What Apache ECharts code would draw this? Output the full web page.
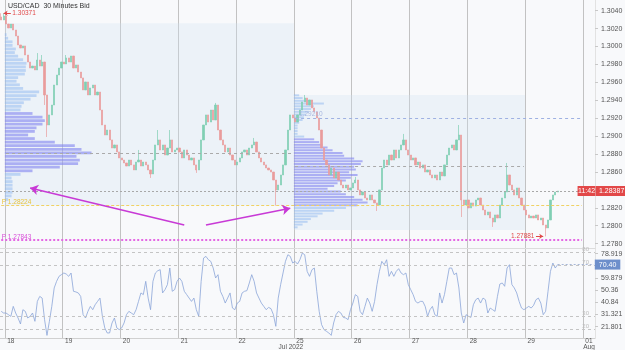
<!DOCTYPE html>
<html><head><meta charset="utf-8">
<script src="https://cdn.jsdelivr.net/npm/echarts@6/dist/echarts.min.js"></script>
<style>html,body{margin:0;padding:0;background:#f8f9fb}#c{width:625px;height:350px}</style>
</head><body><div id="c"></div>
<script>
// ---------- data ----------
const dayLabels = ['18','19','20','21','22','25','26','27','28','29','01'];
const closes = [
1.30296,1.30340,1.30251,1.30207,1.30251,1.30184,1.30117,1.30017,1.29983,1.30006,
1.29905,1.29827,1.29760,1.29782,1.29738,1.29849,1.29782,1.29827,1.29459,1.29124,
1.29236,1.29347,1.29570,1.29682,1.29760,1.29827,1.29805,1.29872,1.29827,1.29894,
1.29760,1.29794,1.29715,1.29649,1.29515,1.29604,1.29459,1.29537,1.29570,1.29459,
1.29492,1.29291,1.29124,1.29012,1.29068,1.28957,1.28867,1.28901,1.28823,1.28756,
1.28733,1.28700,1.28666,1.28733,1.28678,1.28622,1.28711,1.28733,1.28666,1.28711,
1.28678,1.28622,1.28577,1.28733,1.28901,1.28957,1.28845,1.28901,1.28789,1.28867,
1.28957,1.28823,1.28845,1.28867,1.28823,1.28756,1.28845,1.28789,1.28733,1.28756,
1.28678,1.28622,1.28733,1.28957,1.29124,1.29236,1.29157,1.29291,1.29180,1.29347,
1.29068,1.28957,1.28901,1.28823,1.28867,1.28789,1.28733,1.28678,1.28711,1.28756,
1.28823,1.28845,1.28789,1.28867,1.28901,1.28934,1.28823,1.28756,1.28711,1.28678,
1.28644,1.28622,1.28599,1.28510,1.28399,1.28454,1.28566,1.28678,1.28845,1.29068,
1.29236,1.29202,1.29157,1.29236,1.29291,1.29381,1.29425,1.29347,1.29403,1.29314,
1.29269,1.29202,1.29068,1.28867,1.28733,1.28678,1.28566,1.28644,1.28533,1.28599,
1.28510,1.28454,1.28421,1.28454,1.28399,1.28421,1.28477,1.28510,1.28399,1.28343,
1.28376,1.28309,1.28287,1.28343,1.28287,1.28254,1.28231,1.28399,1.28644,1.28733,
1.28678,1.28789,1.28733,1.28845,1.28756,1.28845,1.28901,1.28957,1.28845,1.28789,
1.28733,1.28756,1.28678,1.28711,1.28644,1.28678,1.28599,1.28622,1.28566,1.28533,
1.28566,1.28510,1.28599,1.28555,1.28678,1.28789,1.28867,1.28901,1.28845,1.28957,
1.29012,1.28287,1.28231,1.28287,1.28198,1.28254,1.28219,1.28287,1.28309,1.28231,
1.28175,1.28120,1.28153,1.28086,1.28041,1.28120,1.28086,1.28231,1.28309,1.28376,
1.28566,1.28454,1.28399,1.28343,1.28421,1.28309,1.28231,1.28175,1.28120,1.28086,
1.28108,1.28086,1.28120,1.28064,1.28086,1.28008,1.27975,1.28064,1.28287,1.28343,
1.28376,1.28387];
const firstOpen = 1.30330;
const wickHighs = {0:1.30371,1:1.30371,5:1.30240,15:1.29927,17:1.29905,27:1.29905,57:1.28845,65:1.29068,70:1.29068,89:1.29370,105:1.28979,126:1.29459,147:1.28544,167:1.29024,190:1.29124,210:1.28700};
const wickLows = {18:1.29347,19:1.28990,62:1.28533,81:1.28589,114:1.28224,156:1.28164,191:1.28097,204:1.27986,226:1.27881};
const rsi = [
33.8,32.5,32.5,31.2,29.9,37.7,32.5,28.6,23.9,35.1,
33.8,28.6,29.9,32.5,26.0,41.6,45.5,44.2,27.3,15.0,
26.0,37.7,52.1,57.3,61.2,62.5,63.8,63.0,61.2,63.8,
49.5,49.0,48.2,45.5,31.2,28.6,33.8,37.7,35.1,39.0,
41.6,44.2,29.9,20.8,16.9,16.9,24.7,28.6,20.8,19.5,
20.8,24.7,31.2,33.8,32.5,31.2,35.1,41.6,48.2,46.9,
57.3,44.2,35.1,57.3,63.8,65.6,66.4,48.2,50.8,54.7,
67.7,49.5,50.8,57.3,59.9,57.3,49.5,46.9,44.2,41.6,
44.2,35.1,29.9,57.3,75.5,76.8,74.2,72.9,67.7,59.9,
62.5,49.5,45.5,40.3,44.2,48.2,36.4,35.1,40.3,41.6,
48.2,49.5,50.0,56.0,62.5,57.3,48.2,44.2,40.3,37.7,
35.1,36.9,35.9,31.2,22.1,44.2,54.7,63.8,72.9,78.1,
76.8,71.6,72.9,70.8,74.2,79.4,78.1,65.1,61.2,66.4,
67.7,49.5,33.8,23.4,19.5,18.2,16.9,15.0,24.7,31.2,
33.8,32.5,29.1,28.6,27.3,35.1,40.3,46.9,45.5,33.8,
31.2,37.7,44.2,40.3,33.8,41.6,54.7,65.1,72.9,70.3,
74.2,61.2,65.1,61.2,65.1,67.2,63.8,62.5,63.8,54.7,
50.8,46.9,41.6,40.3,41.6,41.6,37.7,29.9,35.1,37.7,
31.2,29.9,48.2,40.3,46.9,57.3,67.7,67.7,62.5,63.8,
52.1,32.5,24.7,31.2,29.9,29.1,39.0,42.9,44.2,40.3,
44.2,42.9,32.5,36.4,35.1,33.8,45.5,55.2,56.0,53.4,
67.7,70.3,54.7,52.1,48.2,41.6,36.4,35.1,36.4,37.7,
36.4,38.5,42.9,44.2,40.3,31.2,33.8,49.5,65.1,71.6,
67.7,70.40];
const priceTicks = [1.2780,1.2800,1.2820,1.2840,1.2860,1.2880,1.2900,1.2920,1.2940,1.2960,1.2980,1.3000,1.3020,1.3040];
const rsiTicks = [21.801,31.321,40.84,50.36,59.879,78.919];
const rsiLevels = [80,70,30,20];
// volume profile week 1 (rows from top, bin size 0.0004) and week 2 (bin size 0.000307)
const profile1Start = 2, profile1Top = 1.30128, profile1Bin = 0.0004, profile1VA = [22,38];
const profile1Vol = [1.7,3.3,7.7,7.7,11,10,13.3,18.3,21.7,21,21,20,13.3,11.7,15,18.3,34.3,31.7,25.7,19,16.7,15.7,27.7,37.7,40,37.7,31.7,30,23.3,30,50,70,76.7,86.7,71.7,75,73.3,55,27.7,15.7,6.7,7.7,7.7,7.7,7.7,6.7,3.3];
const profile2Start = 122, profile2Top = 1.29451, profile2Bin = 0.000307, profile2VA = [16,40];
const profile2Vol = [5.3,8.7,18.7,30,20,17,15,12,10,8.7,5.3,3.7,3.7,3.7,3.7,10.3,20.3,25.3,28.7,33.7,38.7,48.7,50.3,60.3,68.7,67,60.3,62,55.3,63.7,57,52,43.7,40.3,33.7,47,52,60.3,68.7,73.7,63.7,52,40.3,28.7,23.7,17,13.7,8.7,3.7];
const weekBoxes = [[2,122,1.30260,1.28224],[122,218,1.29459,1.27952]];
const weekHigh = 1.30371, weekLow1 = 1.28224, weekLow2 = 1.27843, lastLow = 1.27881;
const poc1 = 1.28811, poc2 = 1.28666, vwap2 = 1.29202, lastPrice = 1.28387, lastRsi = 70.40;

// ---------- build ----------
const FF = 'Liberation Sans, Arial, sans-serif';
const N_SLOTS = 247;
const cats = [];
for (let s = 0; s < N_SLOTS; s++) {
  const h = s - 2, d = Math.floor(h / 24), hr = ((h % 24) + 24) % 24;
  cats.push((d >= 0 ? dayLabels[d] : '17') + '|' + hr);
}
const candleData = closes.map((c, i) => {
  const o = i === 0 ? firstOpen : closes[i - 1];
  let lo = Math.min(o, c), hi = Math.max(o, c);
  if (wickLows[i] !== undefined) lo = Math.min(lo, wickLows[i]);
  if (wickHighs[i] !== undefined) hi = Math.max(hi, wickHighs[i]);
  return [o, c, lo, hi];
});
function profRows(start, top, bin, vols, va) {
  return vols.map((v, k) => [start, top - k * bin, v, (k >= va[0] && k <= va[1]) ? 1 : 0, bin]);
}
const profileData = profRows(profile1Start, profile1Top, profile1Bin, profile1Vol, profile1VA)
  .concat(profRows(profile2Start, profile2Top, profile2Bin, profile2Vol, profile2VA));
const PROFILE_SCALE = 0.415;
const isDayStart = i => i >= 2 && (i - 2) % 24 === 0;

const UP = '#80cfb3', DOWN = '#e99c9c';
const option = {
  backgroundColor: '#f8f9fb',
  animation: false,
  title: {text: 'USD/CAD  30 Minutes Bid', left: 8, top: 3, padding: 0, textStyle: {fontSize: 7, fontWeight: 'normal', color: '#333', fontFamily: FF}},
  grid: [{left: 0, right: 30, top: 0, height: 248, containLabel: false, outerBoundsMode: 'none'},
         {left: 0, right: 30, top: 248, height: 90, containLabel: false, outerBoundsMode: 'none'}],
  xAxis: [
    {type: 'category', gridIndex: 0, data: cats, boundaryGap: true,
      axisLine: {show: true, lineStyle: {color: '#dcdcdc'}}, axisTick: {show: false}, axisLabel: {show: false},
      splitLine: {show: true, interval: isDayStart, lineStyle: {color: '#c2c2c2', width: 1}}},
    {type: 'category', gridIndex: 1, data: cats, boundaryGap: true,
      axisLine: {show: true, lineStyle: {color: '#d0d0d0'}}, axisTick: {show: false},
      axisLabel: {show: true, interval: i => i >= 2 && (i - 2) % 24 === 2, margin: 0, fontSize: 6.5, color: '#555', fontFamily: FF,
        formatter: v => { const d = v.split('|')[0];
          if (d === '25') return '{d|25}\n{m|Jul 2022}';
          if (d === '01') return '{d|01}\n{d|Aug}';
          return '{d|' + d + '}'; },
        rich: {d: {fontSize: 6.5, color: '#555', lineHeight: 6, fontFamily: FF}, m: {fontSize: 6.5, color: '#555', lineHeight: 6, padding: [0, 18, 0, 0], fontFamily: FF}}},
      splitLine: {show: true, interval: isDayStart, lineStyle: {color: '#c2c2c2', width: 1}}}
  ],
  yAxis: [
    {type: 'value', gridIndex: 0, position: 'right', min: 1.27751, max: 1.30519,
      axisLine: {show: true, lineStyle: {color: '#e2e2e2'}},
      axisTick: {show: true, length: 3, lineStyle: {color: '#c8c8c8'}, customValues: priceTicks},
      axisLabel: {fontSize: 7, color: '#555', margin: 6, fontFamily: FF, customValues: priceTicks, formatter: v => v.toFixed(4)},
      splitLine: {show: false}},
    {type: 'value', gridIndex: 1, position: 'right', min: 12.96, max: 83.36,
      axisLine: {show: true, lineStyle: {color: '#e2e2e2'}},
      axisTick: {show: true, length: 3, lineStyle: {color: '#c8c8c8'}, customValues: rsiTicks},
      axisLabel: {fontSize: 7, color: '#555', margin: 6, fontFamily: FF, customValues: rsiTicks, formatter: v => String(v)},
      splitLine: {show: false}}
  ],
  series: [
    {type: 'custom', name: 'weeks', xAxisIndex: 0, yAxisIndex: 0, z: 0, silent: true,
      data: weekBoxes, encode: {x: [0, 1], y: [2, 3]},
      renderItem: (p, api) => {
        const band = api.size([1, 0])[0];
        const a = api.coord([api.value(0), api.value(2)]), b = api.coord([api.value(1), api.value(3)]);
        return {type: 'rect', shape: {x: a[0] - band / 2, y: a[1], width: b[0] - a[0], height: b[1] - a[1]}, style: {fill: 'rgba(208,226,242,0.3)'}};
      }},
    {type: 'custom', name: 'profile', xAxisIndex: 0, yAxisIndex: 0, z: 1, silent: true,
      data: profileData, encode: {x: 0, y: 1},
      renderItem: (p, api) => {
        const slot = api.value(0), pr = api.value(1), vol = api.value(2), va = api.value(3), half = api.value(4) / 2;
        const band = api.size([1, 0])[0];
        const a = api.coord([slot, pr + half]), b = api.coord([slot, pr - half]);
        return {type: 'rect', shape: {x: a[0] - band / 2, y: a[1], width: band * vol * PROFILE_SCALE, height: Math.max(1, b[1] - a[1] - 0.8)},
          style: {fill: va ? 'rgba(128,130,240,0.6)' : 'rgba(140,182,240,0.5)'}};
      }},
    {type: 'candlestick', name: 'USD/CAD', xAxisIndex: 0, yAxisIndex: 0, z: 3, barWidth: 1.7,
      data: candleData,
      itemStyle: {color: UP, color0: DOWN, borderColor: UP, borderColor0: DOWN, borderWidth: 0.7},
      markLine: {silent: true, animation: false, symbol: ['none', 'none'], label: {show: false}, precision: 5,
        data: [
          [{coord: [2, poc1], lineStyle: {color: '#aaa', type: [3, 3], width: 1}}, {coord: [121, poc1]}],
          [{coord: [122, poc2], lineStyle: {color: '#aaa', type: [3, 3], width: 1}}, {coord: [217, poc2]}],
          [{coord: [122, vwap2], lineStyle: {color: '#9fb1e2', type: [3, 3], width: 1}}, {coord: [241, vwap2]}],
          [{coord: [0, weekLow1], lineStyle: {color: '#f0d264', type: [3, 2], width: 1}}, {coord: [241, weekLow1]}],
          [{coord: [0, weekLow2], lineStyle: {color: '#e468e4', type: [2, 2], width: 2}}, {coord: [241, weekLow2]}],
          {yAxis: lastPrice, lineStyle: {color: '#a8a8a8', type: [2, 2], width: 1},
            label: {show: true, position: 'end', distance: 1, formatter: '1.28387', color: '#fff', backgroundColor: '#e24848', padding: [2, 3, 1, 3], fontSize: 7, fontFamily: FF}},
          [{coord: [4, weekHigh], lineStyle: {color: '#e04848', type: 'solid', width: 1}}, {coord: [1, weekHigh], symbol: 'arrow', symbolSize: 4}],
          [{coord: [222, lastLow], lineStyle: {color: '#e04848', type: 'solid', width: 1}}, {coord: [225, lastLow], symbol: 'arrow', symbolSize: 4}],
          [{coord: [76, 1.28008], lineStyle: {color: '#c83ad6', type: 'solid', width: 1.6}}, {coord: [12, 1.28421], symbol: 'arrow', symbolSize: 8}],
          [{coord: [85, 1.28008], lineStyle: {color: '#c83ad6', type: 'solid', width: 1.6}}, {coord: [120, 1.28194], symbol: 'arrow', symbolSize: 8}]
        ]},
      markPoint: {silent: true, animation: false, symbol: 'circle', symbolSize: 1, itemStyle: {color: 'rgba(0,0,0,0)'},
        data: [
          {coord: [4, weekHigh], label: {show: true, position: 'right', distance: 1, formatter: '1.30371', color: '#e04848', fontSize: 6.5, fontFamily: FF}},
          {coord: [222, lastLow], label: {show: true, position: 'left', distance: 1, formatter: '1.27881', color: '#e04848', fontSize: 6.5, fontFamily: FF}},
          {coord: [0, weekLow1], label: {show: true, position: 'right', distance: 0, offset: [0, -3], formatter: 'P 1.28224', color: '#e8c440', fontSize: 6.5, fontFamily: FF}},
          {coord: [0, weekLow2], label: {show: true, position: 'right', distance: 0, offset: [0, -3], formatter: 'P 1.27843', color: '#d850d8', fontSize: 6.5, fontFamily: FF}},
          {coord: [123, vwap2], label: {show: true, position: 'right', distance: 1, offset: [0, -4], formatter: '1.29210', color: '#a9b8e0', fontSize: 6.5, fontFamily: FF}},
          {coord: [243, lastPrice], symbol: 'rect', symbolSize: [18, 10], itemStyle: {color: '#e24848'},
            label: {show: true, position: 'inside', formatter: '11:42', color: '#fff', fontSize: 7, fontFamily: FF}}
        ]}
    },
    {type: 'line', name: 'RSI', xAxisIndex: 1, yAxisIndex: 1, data: rsi, showSymbol: false, z: 3,
      lineStyle: {color: '#8aa5d8', width: 0.8},
      markLine: {silent: true, animation: false, symbol: ['none', 'none'], label: {show: false},
        data: rsiLevels.map(v => ({yAxis: v, lineStyle: {color: '#c4c4c4', type: [3, 3], width: 1},
            label: {show: true, position: 'insideEndTop', distance: [6, 0], formatter: String(v), color: '#bdbdbd', fontSize: 6, fontFamily: FF}}))
          .concat([[{coord: [231, lastRsi], lineStyle: {color: '#a8b8d8', type: [2, 2], width: 1},
            label: {show: true, position: 'end', distance: 1, formatter: '70.40', color: '#fff', backgroundColor: '#6d8fcb', padding: [2, 4, 1, 4], fontSize: 7, fontFamily: FF}},
            {coord: [246, lastRsi]}]])
      }}
  ]
};
const chart = echarts.init(document.getElementById('c'), null, {renderer: 'canvas'});
chart.setOption(option);
</script></body></html>
